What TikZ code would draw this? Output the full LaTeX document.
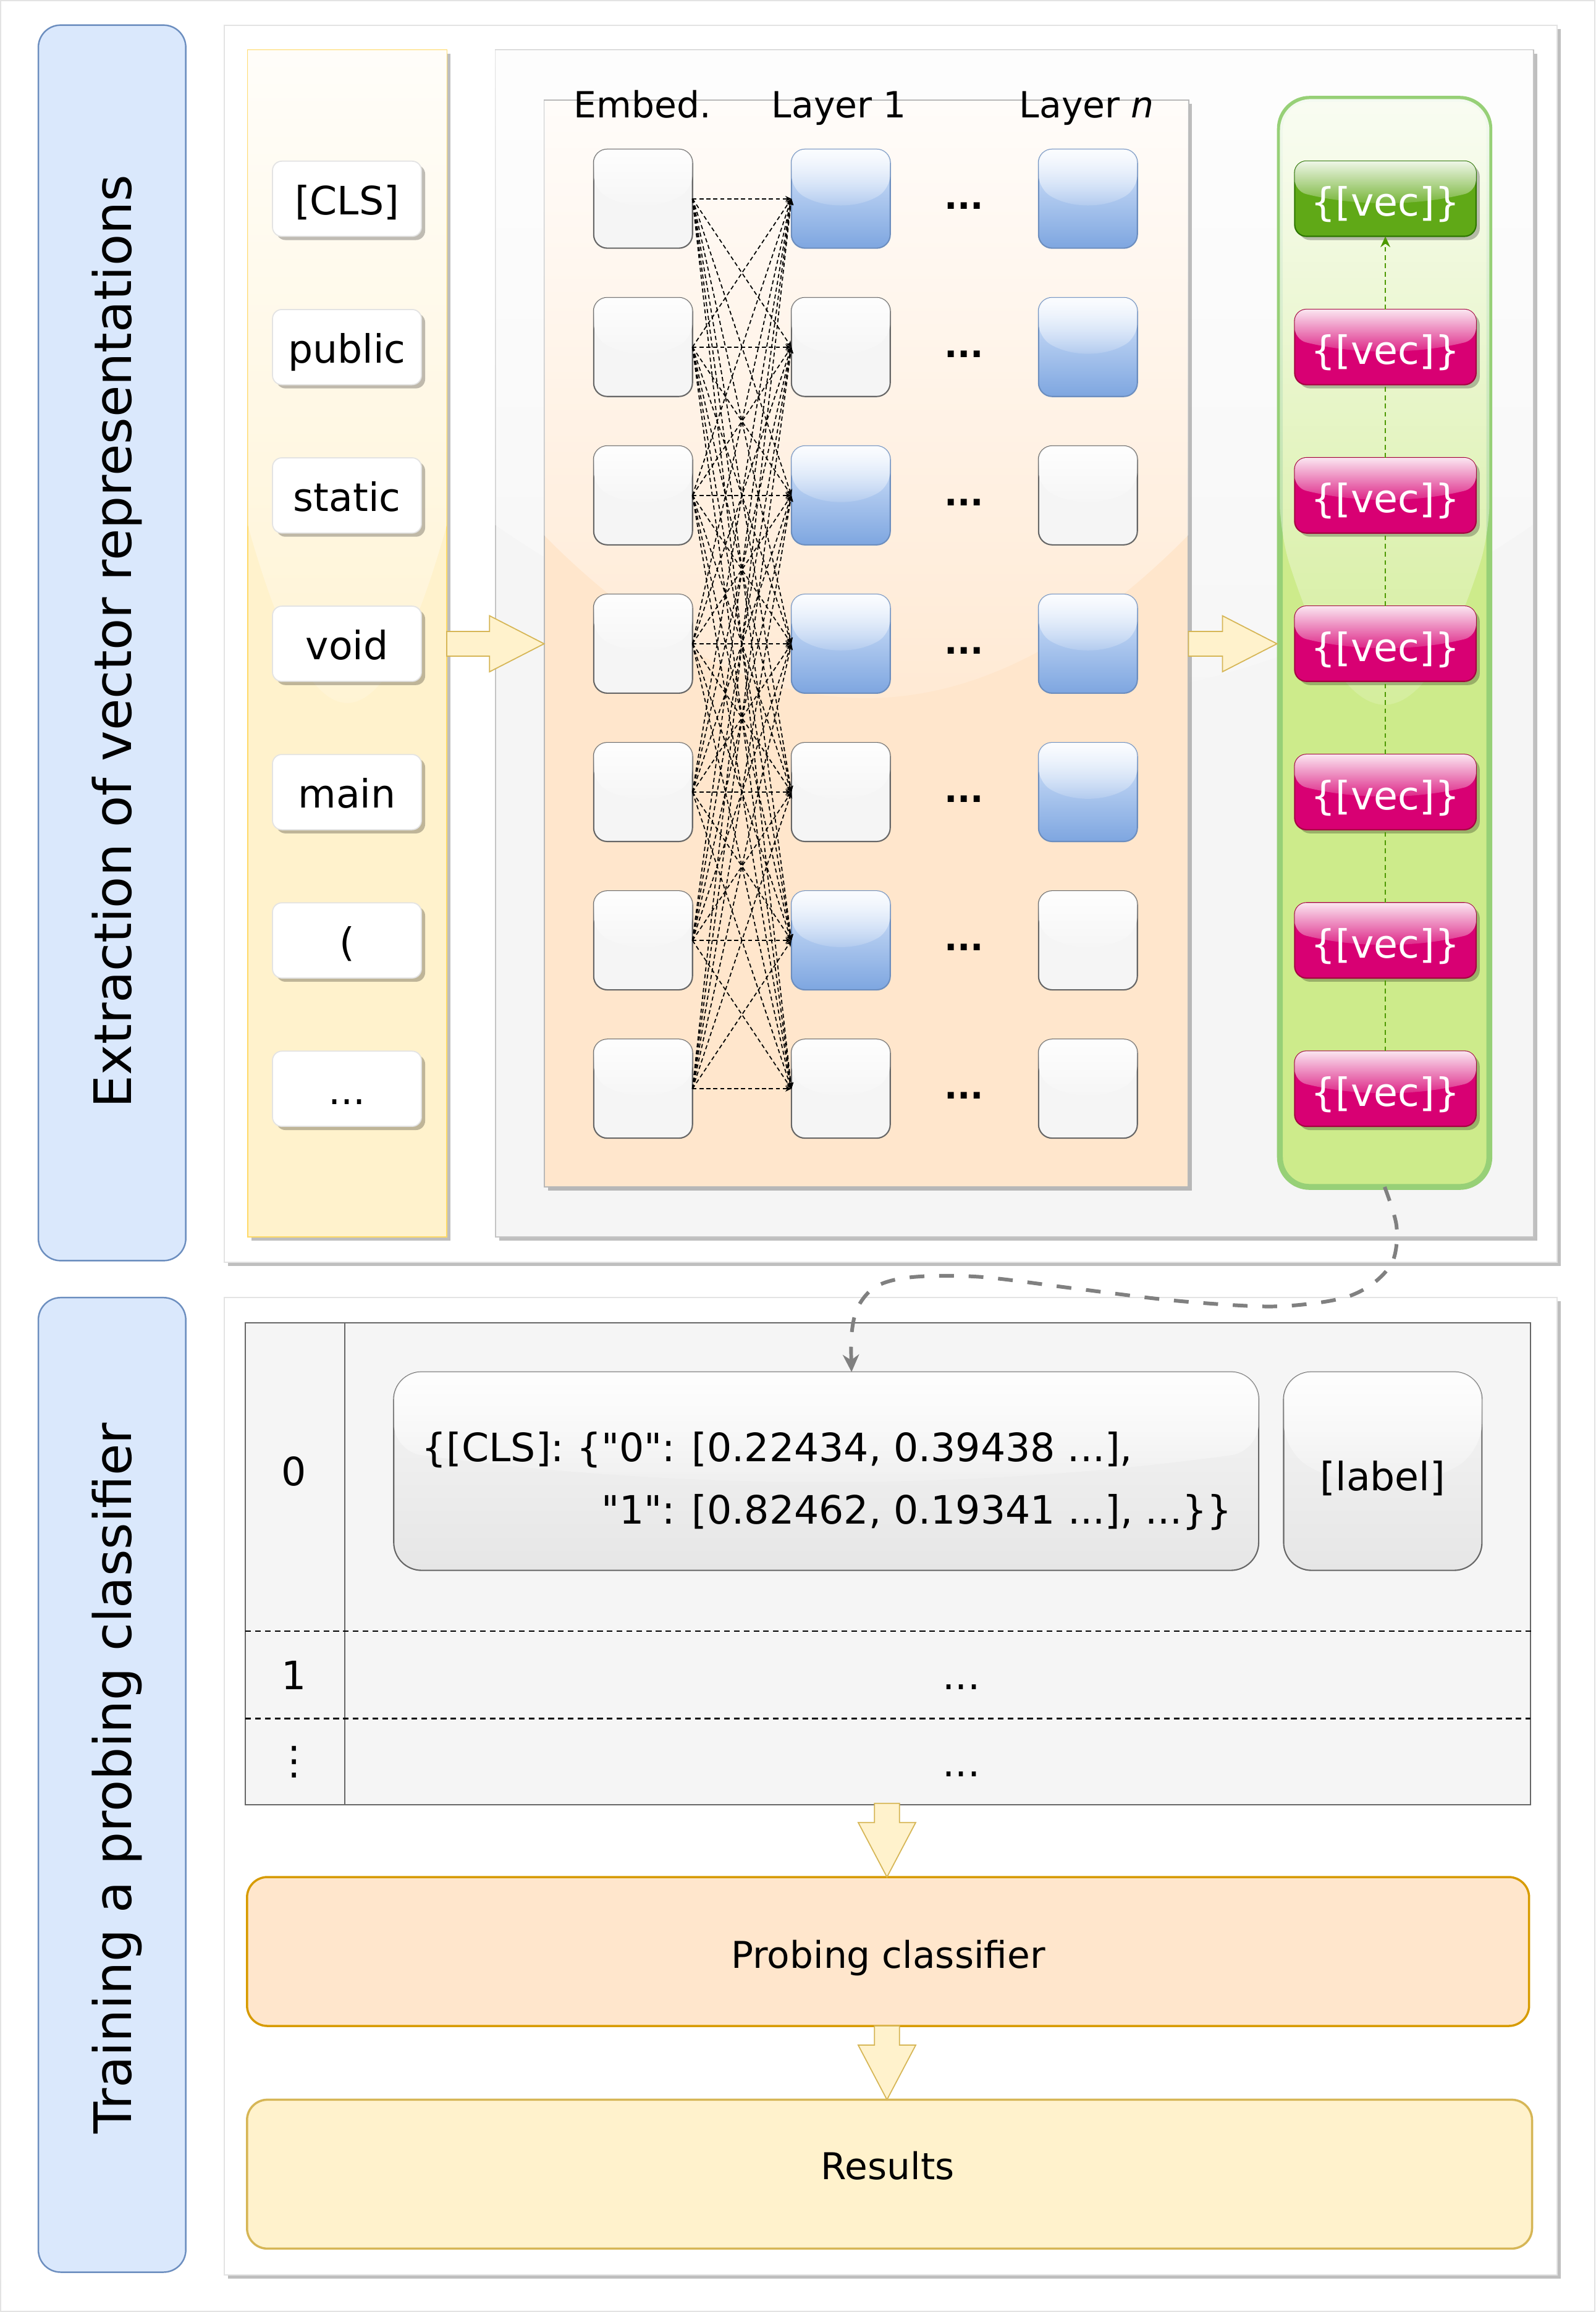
\documentclass[tikz,border=0pt]{standalone}
\usepackage{fontspec}
\setmainfont{DejaVu Sans}
\newfontfamily\jsonfont{DejaVu Sans}
\usetikzlibrary{calc,arrows.meta,fadings,shadows}

\definecolor{cgrayd}{HTML}{666666}
\definecolor{cgrayl}{HTML}{F5F5F5}
\definecolor{cbluef}{HTML}{DAE8FC}
\definecolor{cbluel}{HTML}{7EA6E0}
\definecolor{cblues}{HTML}{6C8EBF}
\definecolor{cpink}{HTML}{D80073}
\definecolor{cpinks}{HTML}{A50040}
\definecolor{cgreen}{HTML}{60A917}
\definecolor{cgreens}{HTML}{2D7600}
\definecolor{cgcol}{HTML}{CDEB8B}
\definecolor{cgcols}{HTML}{97D077}
\definecolor{corange}{HTML}{FFE6CC}
\definecolor{coranges}{HTML}{D79B00}
\definecolor{cyellow}{HTML}{FFF2CC}
\definecolor{cyellows}{HTML}{D6B656}
\definecolor{ctokcol}{HTML}{FFD966}
\definecolor{cgarrow}{HTML}{808080}
\definecolor{cgline}{HTML}{4D9900}
\definecolor{cpanel}{HTML}{E3E3E3}
\definecolor{cclsb}{HTML}{E6E6E6}
\definecolor{cgpan}{HTML}{C4C4C4}
\definecolor{copan}{HTML}{B8B8B8}

\tikzfading[name=glassfade, top color=transparent!10, bottom color=transparent!90]

\newcommand\glassover[2]{%
  \fill[white, path fading=glassfade, #2]
    let \p1=(#1.north west), \p2=(#1.south east), \n1={\y1-\y2}, \n2={\x2-\x1} in
    (\x1,{\y1-0.4*\n1}) -- (\x1,\y1) -- (\x2,\y1) -- (\x2,{\y1-0.4*\n1})
    .. controls ({\x1+0.6667*\n2},{\y1-0.6*\n1}) and ({\x1+0.3333*\n2},{\y1-0.6*\n1}) .. cycle;}

\newcommand\harrow[3]{%
  \draw[blkarr] (#1,#3-8.4) -- (#2-37,#3-8.4) -- (#2-37,#3-19) -- (#2,#3)
     -- (#2-37,#3+19) -- (#2-37,#3+8.4) -- (#1,#3+8.4) -- cycle;}
\newcommand\varrow[3]{%
  \draw[blkarr] (#1-8.5,#2) -- (#1-8.5,#3-37) -- (#1-19.5,#3-37) -- (#1,#3)
     -- (#1+19.5,#3-37) -- (#1+8.5,#3-37) -- (#1+8.5,#2) -- cycle;}

\begin{document}
\begin{tikzpicture}[x=0.023863cm, y=-0.023863cm,
  font=\fontsize{18}{21}\selectfont,
  every node/.style={inner sep=0pt, outer sep=0pt},
  dshad/.style={drop shadow={shadow xshift=0.06cm, shadow yshift=-0.06cm, opacity=0.25, fill=black}},
  panel/.style={draw=cpanel, fill=white, line width=0.6pt, dshad},
  lab/.style={draw=cblues, fill=cbluef, rounded corners=0.36cm, line width=0.7pt, minimum width=2.386cm},
  titletxt/.style={rotate=90, anchor=base, font=\fontsize{23.8}{28}\selectfont},
  tokbox/.style={draw=cpanel, fill=white, rounded corners=0.15cm, line width=0.5pt,
     minimum width=2.41cm, minimum height=1.217cm, dshad, text height=14.5pt, text depth=0pt},
  cellst0/.style={draw=cgrayd, fill=cgrayl, rounded corners=0.22cm, line width=0.6pt,
     minimum width=1.599cm, minimum height=1.599cm},
  cellst1/.style={cellst0, draw=cblues, top color=cbluef, bottom color=cbluel},
  vecbox/.style={draw=cpinks, fill=cpink, text=white, rounded corners=0.19cm, line width=0.6pt,
     minimum width=2.935cm, minimum height=1.217cm, dshad, text height=16pt, text depth=0pt},
  hdr/.style={anchor=base, font=\fontsize{16.6}{20}\selectfont},
  dotsst/.style={font=\bfseries\fontsize{16}{20}\selectfont},
  darr/.style={line width=0.5pt, dash pattern=on 1.9pt off 1.3pt, -{Stealth[length=2.8pt,width=2.6pt]}},
  garrl/.style={cgline, line width=0.5pt, dash pattern=on 2.2pt off 1.6pt},
  blkarr/.style={draw=cyellows, fill=cyellow, line width=0.5pt, line join=miter},
  dotln/.style={line width=0.6pt, dash pattern=on 2.6pt off 1.9pt},
  boxtxt/.style={font=\fontsize{17}{20}\selectfont, anchor=base}
]
\useasboundingbox (0,0) rectangle (1082,1568);
\draw[cpanel, line width=0.6pt] (0.5,0.5) rectangle (1081.5,1567.5);

% ---------- side labels ----------
\node[lab, minimum height=19.997cm] (lab1) at (76,436) {};
\node[titletxt] (title1) at (89,435) {Extraction of vector representations};
\node[lab, minimum height=15.773cm] (lab2) at (76,1210.5) {};
\node[titletxt] (title2) at (89,1206) {Training a probing classifier};

% ---------- panels ----------
\node[panel, minimum width=21.572cm, minimum height=20.021cm] (pan1) at (604,436.5) {};
\node[panel, minimum width=21.572cm, minimum height=15.821cm] (pan2) at (604,1211.5) {};

% ---------- containers ----------
\node[draw=ctokcol, fill=cyellow, line width=0.5pt, dshad, minimum width=3.2215cm, minimum height=19.21cm] (tokcol) at (235.5,436.5) {};
\glassover{tokcol}{sharp corners}
\node[draw=cgpan, fill=cgrayl, line width=0.5pt, dshad, minimum width=16.80cm, minimum height=19.21cm] (gpan) at (688,436.5) {};
\glassover{gpan}{sharp corners}
\node[draw=copan, fill=corange, line width=0.6pt, dshad, minimum width=10.428cm, minimum height=17.587cm] (opan) at (587.5,436.5) {};
\glassover{opan}{sharp corners}
\node[draw=cgcols, fill=cgcol, line width=2.7pt, rounded corners=0.48cm, minimum width=3.389cm, minimum height=17.611cm] (gcol) at (939,436) {};
\glassover{gcol}{rounded corners=0.5cm}

% ---------- tokens ----------
\node[tokbox] (t1) at (235.3,134.8) {[CLS]};
\node[tokbox] (t2) at (235.3,235.4) {public};
\node[tokbox] (t3) at (235.3,336.0) {static};
\node[tokbox] (t4) at (235.3,436.6) {void};
\node[tokbox] (t5) at (235.3,537.2) {main};
\node[tokbox] (t6) at (235.3,637.8) {(};
\node[tokbox] (t7) at (235.3,738.4) {...};

% ---------- headers ----------
\node[hdr] (h0) at (435.7,80) {Embed.};
\node[hdr] (h1) at (569,80) {Layer 1};
\node[hdr] (h2) at (737,80) {Layer \textit{n}};

% ---------- cells ----------
\foreach \i/\a/\b in {1/1/1, 2/0/1, 3/1/0, 4/1/1, 5/0/1, 6/1/0, 7/0/0} {
  \pgfmathsetmacro\yy{134.8+100.6*(\i-1)}
  \node[cellst0] (e\i) at (436.1,\yy) {};
  \glassover{e\i}{rounded corners=0.22cm}
  \node[cellst\a] (l\i) at (570.2,\yy) {};
  \glassover{l\i}{rounded corners=0.22cm}
  \node[cellst\b] (n\i) at (737.8,\yy) {};
  \glassover{n\i}{rounded corners=0.22cm}
  \node[dotsst] (d\i) at (653.7,\yy+4.7) {...};
}
\foreach \i in {1,...,7} {
  \foreach \j in {1,...,7} {
    \draw[darr] (e\i.east) -- (l\j.west);
  }
}

% ---------- vectors ----------
\node[vecbox, fill=cgreen, draw=cgreens] (v1) at (939.5,134.8) {\{[vec]\}};
\foreach \i in {2,...,7} {
  \pgfmathsetmacro\yy{134.8+100.6*(\i-1)}
  \node[vecbox] (v\i) at (939.5,\yy) {\{[vec]\}};
}
\foreach \k/\m in {7/6,6/5,5/4,4/3,3/2} {
  \draw[garrl] (v\k.north) -- (v\m.south);
}
\draw[garrl, -{Stealth[length=5pt,width=4.5pt]}] (v2.north) -- (v1.south);
\foreach \i in {1,...,7} { \glassover{v\i}{rounded corners=0.19cm} }

% ---------- block arrows ----------
\harrow{303}{369}{436.6}
\harrow{806}{866}{436.6}

% ---------- lower part ----------
\node[draw=cgrayd, fill=cgrayl, line width=0.7pt, minimum width=20.799cm, minimum height=7.803cm] (tab) at (602.2,1060.5) {};
\draw[cgrayd, line width=0.4pt] (233.8,897) -- (233.8,1224);
\draw[dotln] (166.4,1106.4) -- (1040,1106.4);
\draw[dotln] (166.4,1165.5) -- (1038,1165.5);
\node[anchor=base] (r0) at (199.5,1007.6) {0};
\node[anchor=base] (r1) at (199.5,1146) {1};
\node (r2) at (199.5,1195) {⋮};
\node[anchor=base] (rd1) at (652,1146) {...};
\node[anchor=base] (rd2) at (652,1205) {...};

\node[draw=cgrayd, top color=cgrayl, bottom color=cclsb, rounded corners=0.45cm, line width=0.6pt, minimum width=13.998cm, minimum height=3.2096cm] (clsbox) at (560.3,997.75) {};
\glassover{clsbox}{rounded corners=0.45cm}
\node[anchor=base west, font=\jsonfont\fontsize{18}{21}\selectfont] (cls1) at (286,991) {\{[CLS]: \{"0": [0.22434, 0.39438 ...],};
\node[anchor=base west, font=\jsonfont\fontsize{18}{21}\selectfont] (cls2) at (286,1033.4) {\hphantom{\{[CLS]: \{}"1": [0.82462, 0.19341 ...], ...\}\}};

\node[draw=cgrayd, top color=cgrayl, bottom color=cclsb, rounded corners=0.45cm, line width=0.6pt, minimum width=3.2096cm, minimum height=3.2096cm] (lbl) at (937.75,997.75) {};
\glassover{lbl}{rounded corners=0.45cm}
\node[anchor=base] (lbltxt) at (937.75,1011) {[label]};

\node[draw=coranges, fill=corange, line width=1pt, rounded corners=0.33cm, minimum width=20.749cm, minimum height=2.41cm] (prob) at (602.25,1323.5) {};
\node[boxtxt] (probtxt) at (602.4,1335) {Probing classifier};
\node[draw=cyellows, fill=cyellow, line width=1pt, rounded corners=0.33cm, minimum width=20.797cm, minimum height=2.41cm] (res) at (603.25,1474.5) {};
\node[boxtxt] (restxt) at (602,1478) {Results};

\varrow{601.5}{1223}{1273}
\varrow{601.5}{1374}{1424}

% ---------- curved connector ----------
\coordinate (clsin) at (577.5,930.5);
\draw[cgarrow, line width=1.7pt, dash pattern=on 6.8pt off 6.8pt,
      -{Stealth[length=8pt,width=7.5pt,inset=2.5pt]}]
  plot[smooth, tension=0.55] coordinates {(gcol.south) (947,831) (945,854) (933,869) (915,879) (890,884) (856,886) (796,882) (730,874) (665,866) (620,866) (595,872) (582,886) (577.5,905) (clsin)};
\end{tikzpicture}
\end{document}
